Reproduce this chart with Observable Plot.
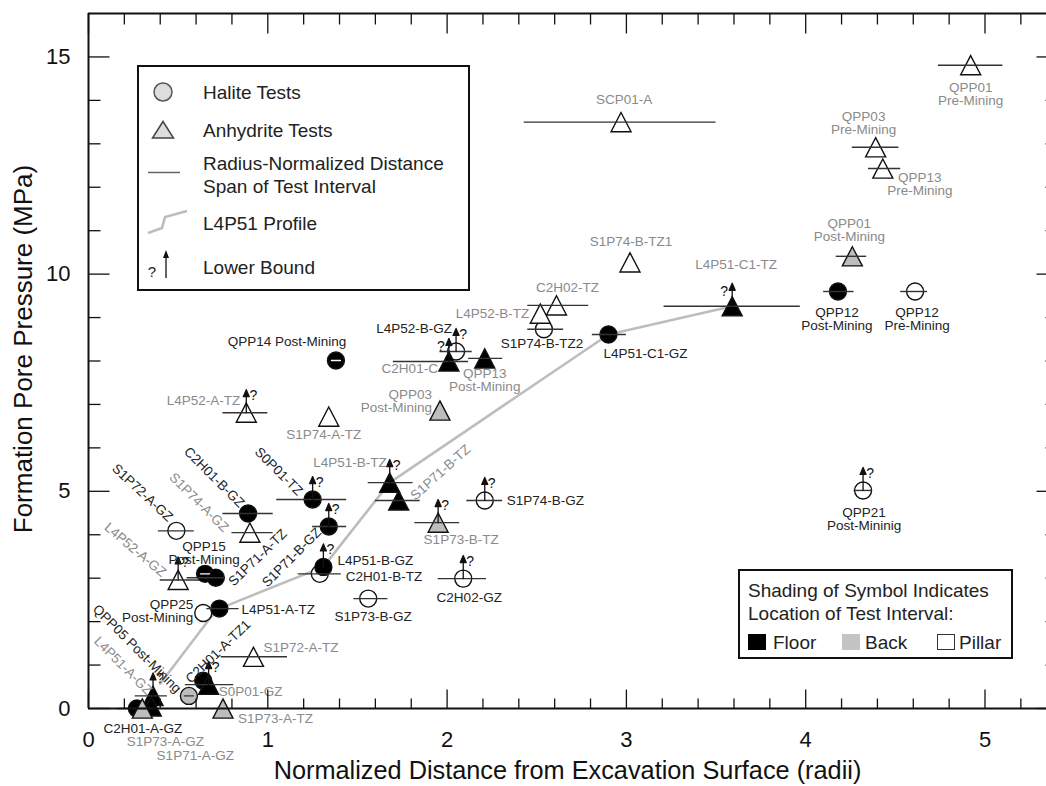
<!DOCTYPE html>
<html><head><meta charset="utf-8">
<script src="https://cdn.jsdelivr.net/npm/d3@7"></script>
<script src="https://cdn.jsdelivr.net/npm/@observablehq/plot@0.6"></script>
<style>
html,body{margin:0;padding:0;background:#fff;overflow:hidden}
#wrap{position:relative;width:1046px;height:786px;font-family:"Liberation Sans",Arial,Helvetica,sans-serif}
#wrap svg text{font-family:"Liberation Sans",Arial,Helvetica,sans-serif}
.lg{position:absolute;overflow:visible}
</style></head><body><div id="wrap"></div>
<script>
// ---- data ----
const names = ["QPP01 Pre-Mining","QPP03 Pre-Mining","QPP13 Pre-Mining","QPP01 Post-Mining","QPP12 Post-Mining","QPP12 Pre-Mining","L4P51-C1-TZ","SCP01-A","S1P74-B-TZ1","C2H02-TZ","L4P52-B-TZ","S1P74-B-TZ2","L4P51-C1-GZ","L4P52-B-GZ","C2H01-C","QPP13 Post-Mining","QPP03 Post-Mining","QPP14 Post-Mining","L4P52-A-TZ","S1P74-A-TZ","L4P51-B-TZ","S1P71-B-TZ","S1P73-B-TZ","S1P74-B-GZ","S0P01-TZ","S1P71-B-GZ","C2H01-B-TZ","L4P51-B-GZ","S1P73-B-GZ","C2H02-GZ","C2H01-B-GZ","S1P74-A-GZ","S1P72-A-GZ","L4P52-A-GZ","QPP15 Post-Mining","S1P71-A-TZ","QPP25 Post-Mining","L4P51-A-TZ","S1P72-A-TZ","C2H01-A-TZ1","S0P01-GZ","QPP05 Post-Mining","L4P51-A-GZ","C2H01-A-GZ","S1P71-A-GZ","S1P73-A-GZ","S1P73-A-TZ","QPP21 Post-Mininig"];
const labelTexts = ["QPP01\nPre-Mining","QPP03\nPre-Mining","QPP13\nPre-Mining","QPP01\nPost-Mining","QPP12\nPost-Mining","QPP12\nPre-Mining","L4P51-C1-TZ","SCP01-A","S1P74-B-TZ1","C2H02-TZ","L4P52-B-TZ","S1P74-B-TZ2","L4P51-C1-GZ","L4P52-B-GZ","C2H01-C","QPP13\nPost-Mining","QPP03\nPost-Mining","QPP14 Post-Mining","L4P52-A-TZ","S1P74-A-TZ","L4P51-B-TZ","S1P71-B-TZ","S1P73-B-TZ","S1P74-B-GZ","S0P01-TZ","S1P71-B-GZ","C2H01-B-TZ","L4P51-B-GZ","S1P73-B-GZ","C2H02-GZ","C2H01-B-GZ","S1P74-A-GZ","S1P72-A-GZ","L4P52-A-GZ","QPP15\nPost-Mining","S1P71-A-TZ","QPP25\nPost-Mining","L4P51-A-TZ","S1P72-A-TZ","C2H01-A-TZ1","S0P01-GZ","QPP05 Post-Mining","L4P51-A-GZ","C2H01-A-GZ","S1P71-A-GZ","S1P73-A-GZ","S1P73-A-TZ","QPP21\nPost-Mininig"];
const distance = [4.92,4.39,4.43,4.26,4.18,4.61,3.59,2.97,3.02,2.61,2.52,2.54,2.90,2.05,2.01,2.21,1.96,1.38,0.88,1.34,1.68,1.73,1.95,2.21,1.25,1.34,1.29,1.31,1.56,2.09,0.89,0.90,0.49,0.50,0.65,0.71,0.64,0.73,0.92,0.64,0.67,0.56,0.36,0.27,0.35,0.30,0.75,4.32];
const pressure = [14.81,12.92,12.43,10.41,9.60,9.60,9.26,13.50,10.27,9.28,9.09,8.73,8.61,8.22,7.99,8.06,6.86,8.01,6.81,6.72,5.20,4.79,4.28,4.79,4.81,4.19,3.10,3.26,2.53,2.99,4.49,4.05,4.09,2.96,3.10,3.01,2.20,2.30,1.19,0.64,0.55,0.29,0.29,0.00,0.05,0.00,0.00,5.02];
const spanLo = [4.74,4.26,4.35,4.17,4.10,4.53,3.21,2.43,null,2.45,null,2.45,2.81,1.96,1.70,2.12,null,null,0.75,null,1.56,1.60,1.82,2.11,1.05,1.25,1.17,null,1.48,1.95,0.75,0.80,0.39,0.40,null,0.55,null,0.66,0.74,null,0.54,null,0.26,0.16,null,null,null,4.27];
const spanHi = [5.10,4.52,4.53,4.34,4.27,4.68,3.97,3.50,null,2.79,null,2.65,3.00,2.14,2.12,2.31,null,null,1.00,null,1.81,1.85,2.07,2.31,1.44,1.44,1.41,null,1.67,2.22,1.03,1.03,0.59,0.62,null,0.76,null,0.84,1.11,null,0.81,null,0.44,0.36,null,null,null,4.37];
const rockType = ["A","A","A","A","H","H","A","A","A","A","A","H","H","H","A","A","A","H","A","A","A","A","A","H","H","H","H","H","H","H","H","A","H","A","H","H","H","H","A","H","A","H","A","H","A","A","A","H"];
const testLocation = ["pillar","pillar","pillar","back","floor","pillar","floor","pillar","pillar","pillar","pillar","pillar","floor","pillar","floor","floor","back","floor","pillar","pillar","floor","floor","back","pillar","floor","floor","pillar","floor","pillar","pillar","floor","pillar","pillar","pillar","floor","floor","pillar","floor","pillar","floor","floor","back","floor","floor","floor","back","back","pillar"];
const lowerBoundRight = ["L4P52-B-GZ","L4P52-A-TZ","L4P51-B-TZ","S1P73-B-TZ","S1P74-B-GZ","S0P01-TZ","S1P71-B-GZ","L4P51-B-GZ","C2H02-GZ","L4P52-A-GZ","S0P01-GZ","L4P51-A-GZ","QPP21 Post-Mininig"];
const lowerBoundLeft = ["L4P51-C1-TZ","C2H01-C"];
const innerDash = ["QPP14 Post-Mining","QPP15 Post-Mining","QPP05 Post-Mining"];
const profileDistance = [0.40,0.68,0.73,1.31,1.68,2.90,3.59];
const profilePressure = [0.57,2.09,2.30,3.26,5.20,8.61,9.26];
const xMajorTicks = [0,1,2,3,4,5];
const xMinorTicks = [0.2,0.4,0.6,0.8,1.2,1.4,1.6,1.8,2.2,2.4,2.6,2.8,3.2,3.4,3.6,3.8,4.2,4.4,4.6,4.8,5.2];
const yMajorTicks = [0,5,10,15];
const yMinorTicks = [1,2,3,4,6,7,8,9,11,12,13,14];

// ---- label layout (pixel offsets from the symbol) ----
const labelLayout = {
 "QPP01 Pre-Mining":[0,29.5,"middle",0],"QPP03 Pre-Mining":[-12,-24,"middle",0],"QPP13 Pre-Mining":[37,16,"middle",0],
 "QPP01 Post-Mining":[-3,-26,"middle",0],"QPP12 Post-Mining":[-1,27.5,"middle",0],"QPP12 Pre-Mining":[2,27.5,"middle",0],
 "L4P51-C1-TZ":[4,-41,"middle",0],"SCP01-A":[3,-22,"middle",0],"S1P74-B-TZ1":[1,-21,"middle",0],"C2H02-TZ":[11,-18,"middle",0],
 "L4P52-B-TZ":[-11,0,"end",0],"S1P74-B-TZ2":[-2,15,"middle",0],"L4P51-C1-GZ":[-5,19,"start",0],"L4P52-B-GZ":[-4,-23,"end",0],
 "C2H01-C":[-11,7,"end",0],"QPP13 Post-Mining":[0,21.5,"middle",0],"QPP03 Post-Mining":[-8,-9.5,"end",0],
 "QPP14 Post-Mining":[-49,-19,"middle",0],"L4P52-A-TZ":[-6,-12,"end",0],"S1P74-A-TZ":[-5,18,"middle",0],
 "L4P51-B-TZ":[-3,-20,"end",0],"S1P71-B-TZ":[42,-28,"middle",-42],"S1P73-B-TZ":[23,17,"middle",0],"S1P74-B-GZ":[22,0,"start",0],
 "S0P01-TZ":[-34,-28,"middle",45],"S1P71-B-GZ":[-37,31,"middle",-45],"C2H01-B-TZ":[26,2.5,"start",0],"L4P51-B-GZ":[14,-6.5,"start",0],
 "S1P73-B-GZ":[5,18,"middle",0],"C2H02-GZ":[6,19,"middle",0],"C2H01-B-GZ":[-34,-36,"middle",45],"S1P74-A-GZ":[-51,-30,"middle",45],
 "S1P72-A-GZ":[-34,-38,"middle",43],"L4P52-A-GZ":[-43,-30,"middle",40],"QPP15 Post-Mining":[-1,-21,"middle",0],
 "S1P71-A-TZ":[42,-20,"middle",-44],"QPP25 Post-Mining":[-10,-2,"end",0],"L4P51-A-TZ":[22,1,"start",0],"S1P72-A-TZ":[10,-9,"start",0],
 "C2H01-A-TZ1":[15,-29,"middle",-44],"S0P01-GZ":[10,7,"start",0],"QPP05 Post-Mining":[-52,-47,"middle",45],
 "L4P51-A-GZ":[-30,-30,"middle",45],"C2H01-A-GZ":[6,20,"middle",0],"S1P71-A-GZ":[44,49,"middle",0],"S1P73-A-GZ":[23,33,"middle",0],
 "S1P73-A-TZ":[15,10,"start",0],"QPP21 Post-Mininig":[1,29,"middle",0]
};

const fillByLoc = {floor:"#000", back:"#bdbdbd", pillar:"#fff"};
const labelColor = {H:"#222", A:"#8a8a8a"};
const points = names.map((name,i)=>({name, label:labelTexts[i], x:distance[i], y:pressure[i], lo:spanLo[i], hi:spanHi[i], rock:rockType[i], loc:testLocation[i]}));
const profile = profileDistance.map((x,i)=>({x, y:profilePressure[i]}));
const byName = new Map(points.map(p=>[p.name,p]));

const triShape = {draw(ctx,size){const s=Math.sqrt(size/Math.PI); ctx.moveTo(0,-1.2*s); ctx.lineTo(1.25*s,1.2*s); ctx.lineTo(-1.25*s,1.2*s); ctx.closePath();}};
const lineShape = {draw(ctx,l){ctx.moveTo(0,0); ctx.lineTo(0,-l);}};
const arrowShape = {draw(ctx,l){ctx.moveTo(0,0); ctx.lineTo(0,-l+5); ctx.moveTo(-3,-l+7); ctx.lineTo(0,-l); ctx.lineTo(3,-l+7); ctx.closePath();}};

const labelMarks = points.map(p=>{
  const [dx,dy,anchor,rot] = labelLayout[p.name];
  return Plot.text([p],{x:"x",y:"y",text:"label",dx,dy,textAnchor:anchor,rotate:rot,lineAnchor:"middle",lineHeight:0.97,fontSize:13.5,fill:labelColor[p.rock]});
});

const tickOpts = {shape:lineShape, anchor:"start", stroke:"#111", strokeWidth:1.3, strokeLinecap:"butt"};

const chart = Plot.plot({
  width:1046, height:786, marginLeft:88, marginRight:0, marginTop:13, marginBottom:78,
  x:{domain:[0,5.343], axis:null},
  y:{domain:[0,16], axis:null},
  style:{fontFamily:'"Liberation Sans",Arial,Helvetica,sans-serif', background:"white", overflow:"visible"},
  marks:[
    Plot.line(profile,{x:"x",y:"y",stroke:"#bdbdbd",strokeWidth:2.6}),
    Plot.dot(points.filter(d=>d.rock==="H"),{x:"x",y:"y",r:8.5,fill:d=>fillByLoc[d.loc],stroke:"#111",strokeWidth:1.4}),
    Plot.dot(points.filter(d=>d.rock==="A"),{x:"x",y:"y",r:8,symbol:triShape,fill:d=>fillByLoc[d.loc],stroke:"#111",strokeWidth:1.4}),
    Plot.ruleY(points.filter(d=>d.lo!=null),{y:"y",x1:"lo",x2:"hi",stroke:"#333",strokeWidth:1.4}),
    Plot.vector(innerDash.map(n=>byName.get(n)),{x:"x",y:"y",length:9,rotate:90,anchor:"middle",shape:lineShape,stroke:d=>d.loc==="floor"?"#fff":"#333",strokeWidth:1.4}),
    Plot.vector([...lowerBoundRight,...lowerBoundLeft].map(n=>byName.get(n)),{x:"x",y:"y",length:23,rotate:0,anchor:"start",shape:arrowShape,stroke:"#111",fill:"#111",strokeWidth:1.3}),
    Plot.text(lowerBoundRight.map(n=>byName.get(n)),{x:"x",y:"y",text:()=>"?",dx:7,dy:-17,fontSize:14,fill:"#111"}),
    Plot.text(lowerBoundLeft.map(n=>byName.get(n)),{x:"x",y:"y",text:()=>"?",dx:-8,dy:-15,fontSize:14,fill:"#111"}),
    ...labelMarks,
    // frame
    Plot.ruleX([0],{stroke:"#111",strokeWidth:2}),
    Plot.ruleY([0,16],{stroke:"#111",strokeWidth:2}),
    // ticks pointing inward
    Plot.vector(xMajorTicks,{x:d=>d,frameAnchor:"bottom",length:19,rotate:0,...tickOpts}),
    Plot.vector(xMinorTicks,{x:d=>d,frameAnchor:"bottom",length:10,rotate:0,...tickOpts}),
    Plot.vector(xMajorTicks,{x:d=>d,frameAnchor:"top",length:20,rotate:180,...tickOpts}),
    Plot.vector(xMinorTicks,{x:d=>d,frameAnchor:"top",length:11,rotate:180,...tickOpts}),
    Plot.vector(yMajorTicks,{y:d=>d,frameAnchor:"left",length:21,rotate:90,...tickOpts}),
    Plot.vector(yMinorTicks,{y:d=>d,frameAnchor:"left",length:12,rotate:90,...tickOpts}),
    Plot.vector(yMajorTicks,{y:d=>d,frameAnchor:"right",length:21,rotate:-90,dx:11,...tickOpts}),
    Plot.vector(yMinorTicks,{y:d=>d,frameAnchor:"right",length:12,rotate:-90,dx:11,...tickOpts}),
    // tick labels
    Plot.text(xMajorTicks,{x:d=>d,text:d=>String(d),frameAnchor:"bottom",dy:31,lineAnchor:"middle",fontSize:22,fill:"#111"}),
    Plot.text(yMajorTicks,{y:d=>d,text:d=>String(d),frameAnchor:"left",dx:-18,textAnchor:"end",lineAnchor:"middle",fontSize:22,fill:"#111"}),
    // axis titles
    Plot.text(["Normalized Distance from Excavation Surface (radii)"],{frameAnchor:"bottom",dy:62,textAnchor:"middle",lineAnchor:"middle",fontSize:25.3,fill:"#111"}),
    Plot.text(["Formation Pore Pressure (MPa)"],{frameAnchor:"left",dx:-65,dy:-12,rotate:-90,textAnchor:"middle",lineAnchor:"middle",fontSize:26,fill:"#111"})
  ]
});
const wrap = document.getElementById("wrap");
wrap.appendChild(chart);

// ---- legends ----
const lg1 = `<svg class="lg" width="333" height="226" style="left:137px;top:65px" font-size="19" fill="#222">
<rect x="1" y="1" width="331" height="224" fill="#fff" stroke="#111" stroke-width="2"/>
<circle cx="26" cy="27" r="9" fill="#ddd" stroke="#555" stroke-width="1.5"/>
<text x="66" y="27" dy="0.35em">Halite Tests</text>
<path d="M26,56.5L36.5,73L15.5,73Z" fill="#ddd" stroke="#444" stroke-width="1.5"/>
<text x="66" y="65" dy="0.35em">Anhydrite Tests</text>
<line x1="11" x2="43" y1="107.5" y2="107.5" stroke="#666" stroke-width="1.5"/>
<text x="66" y="98" dy="0.35em">Radius-Normalized Distance</text>
<text x="66" y="121.5" dy="0.35em">Span of Test Interval</text>
<polyline points="11,168 25,163 28,152 50,146" fill="none" stroke="#bdbdbd" stroke-width="2.6"/>
<text x="66" y="158" dy="0.35em">L4P51 Profile</text>
<text x="15" y="207" dy="0.35em" font-size="15" text-anchor="middle">?</text>
<line x1="29" x2="29" y1="213" y2="191" stroke="#111" stroke-width="1.3"/>
<path d="M26,193L29,185L32,193Z" fill="#111"/>
<text x="66" y="202.5" dy="0.35em">Lower Bound</text>
</svg>`;
const lg2 = `<svg class="lg" width="275" height="90" style="left:738px;top:569px" font-size="19" fill="#222">
<rect x="1" y="1" width="273" height="88" fill="#fff" stroke="#111" stroke-width="2"/>
<text x="10" y="21" dy="0.35em">Shading of Symbol Indicates</text>
<text x="10" y="44" dy="0.35em">Location of Test Interval:</text>
<rect x="10.5" y="65.5" width="17" height="15" fill="#000" stroke="#000"/>
<text x="35" y="73.5" dy="0.35em">Floor</text>
<rect x="104.5" y="65.5" width="17" height="15" fill="#c4c4c4" stroke="#c4c4c4"/>
<text x="127" y="73.5" dy="0.35em">Back</text>
<rect x="199.5" y="65.5" width="17" height="15" fill="#fff" stroke="#333"/>
<text x="221" y="73.5" dy="0.35em">Pillar</text>
</svg>`;
wrap.insertAdjacentHTML("beforeend", lg1 + lg2);
</script></body></html>
